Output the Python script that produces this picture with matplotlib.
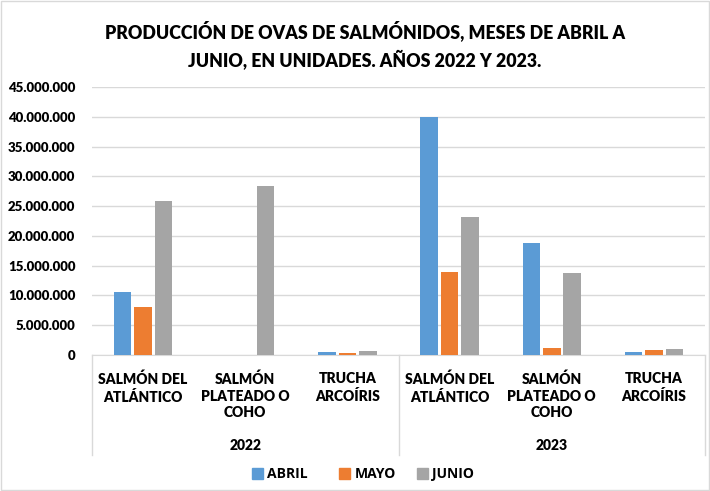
import numpy as np
import matplotlib.pyplot as plt
from matplotlib.ticker import FuncFormatter

plt.rcParams['font.family'] = ['Lato', 'DejaVu Sans']

# datos
years = ["2022", "2023"]
especies = ["SALMÓN DEL\nATLÁNTICO", "SALMÓN\nPLATEADO O\nCOHO", "TRUCHA\nARCOÍRIS"]
meses = ["ABRIL", "MAYO", "JUNIO"]
abril = [10500000, 0, 560000, 40000000, 18800000, 450000]
mayo = [8070000, 0, 280000, 13900000, 1120000, 780000]
junio = [25800000, 28300000, 670000, 23100000, 13700000, 1060000]
colores = ["#5B9BD5", "#ED7D31", "#A5A5A5"]

fig = plt.figure(figsize=(7.1, 4.91), dpi=100)
ax = fig.add_axes([92/710, 136/491, 613/710, 268/491])

x = np.arange(len(abril))
w = 0.172
gap = 0.028
for i, (serie, c) in enumerate(zip([abril, mayo, junio], colores)):
    ax.bar(x + (i - 1) * (w + gap), serie, w, color=c, zorder=3)

ax.set_xlim(-0.5, len(abril) - 0.5)
ax.set_ylim(0, 45000000)
ax.set_yticks(np.arange(0, 45000001, 5000000))
ax.yaxis.set_major_formatter(FuncFormatter(lambda v, p: f"{int(v):,}".replace(",", ".")))
ax.grid(axis="y", color="#D9D9D9", linewidth=1, zorder=0)
for s in ["top", "right", "left"]:
    ax.spines[s].set_visible(False)
ax.spines["bottom"].set_color("#D9D9D9")
ax.tick_params(axis="y", length=0, pad=12, labelsize=9.5)
for lab in ax.get_yticklabels():
    lab.set_fontweight("heavy")

ax.set_xticks(x)
ax.set_xticklabels(especies * 2, fontsize=10, fontweight="heavy", va="top", linespacing=1.33)
ax.tick_params(axis="x", length=0, pad=12)

# separadores de categorías
for xs in [0, 0.5, 1]:
    ax.plot([xs, xs], [0, -0.373], transform=ax.transAxes, color="#D9D9D9",
            linewidth=1, clip_on=False)
for j, yr in enumerate(years):
    ax.text(0.25 + 0.5 * j, -0.336, yr, transform=ax.transAxes, ha="center",
            va="center", fontsize=10, fontweight="heavy")

fig.suptitle("PRODUCCIÓN DE OVAS DE SALMÓNIDOS, MESES DE ABRIL A\nJUNIO, EN UNIDADES. AÑOS 2022 Y 2023.",
             x=0.514, y=0.958, fontsize=12.8, fontweight="heavy", linespacing=1.5)

# leyenda hecha a mano
lx = [0.355, 0.478, 0.588]
for i, m in enumerate(meses):
    fig.patches.append(plt.Rectangle((lx[i], 0.024), 0.0155, 0.0224, transform=fig.transFigure,
                                     color=colores[i]))
    fig.text(lx[i] + 0.021, 0.034, m, fontsize=10, fontweight="bold", va="center",
             family=["Open Sans", "DejaVu Sans"])

fig.patches.append(plt.Rectangle((0.002, 0.002), 0.996, 0.996, transform=fig.transFigure,
                                 fill=False, edgecolor="#D9D9D9", linewidth=1))

fig.savefig("out.png", dpi=100)
